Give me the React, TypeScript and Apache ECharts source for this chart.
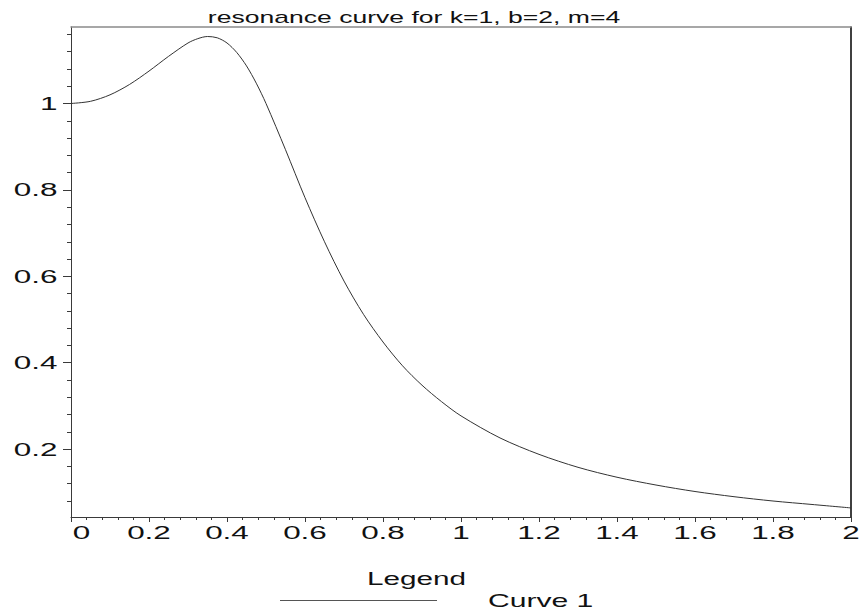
import React, { useEffect, useRef } from "react";
import * as echarts from "echarts";

const xValues = [
  0, 0.05, 0.1, 0.15, 0.2, 0.25, 0.3, 0.325, 0.35, 0.375, 0.4, 0.425, 0.45, 0.475, 0.5,
  0.55, 0.6, 0.65, 0.7, 0.75, 0.8, 0.85, 0.9, 0.95, 1.0,
  1.1, 1.2, 1.3, 1.4, 1.5, 1.6, 1.7, 1.8, 1.9, 2.0,
];
const yValues = [
  1.0, 1.005, 1.02, 1.044, 1.075, 1.109, 1.14, 1.15, 1.155, 1.152, 1.14, 1.118, 1.087, 1.047, 1.0,
  0.893, 0.782, 0.68, 0.589, 0.512, 0.448, 0.393, 0.348, 0.31, 0.277,
  0.226, 0.188, 0.158, 0.135, 0.117, 0.102, 0.09, 0.08, 0.072, 0.064,
];
const xTickValues = [0, 0.2, 0.4, 0.6, 0.8, 1, 1.2, 1.4, 1.6, 1.8, 2];
const xTickLabels = ["0", "0.2", "0.4", "0.6", "0.8", "1", "1.2", "1.4", "1.6", "1.8", "2"];
const yMajorTicks = [0.2, 0.4, 0.6, 0.8, 1];
const yTickLabels = ["0.2", "0.4", "0.6", "0.8", "1"];
const yMinorTicks = [
  0.08, 0.12, 0.16, 0.24, 0.28, 0.32, 0.36, 0.44, 0.48, 0.52, 0.56, 0.64, 0.68,
  0.72, 0.76, 0.84, 0.88, 0.92, 0.96, 1.04, 1.08, 1.12, 1.16,
];
const titleText = "resonance curve for k=1, b=2, m=4";
const legendTitle = "Legend";
const seriesName = "Curve 1";

const FONT = '"Liberation Sans", Arial, sans-serif';
const STRETCH = 1.7;
const TEXT_COLOR = "#111";

export default function App() {
  const ref = useRef<HTMLDivElement>(null);
  useEffect(() => {
    if (!ref.current) return;
    const chart = echarts.init(ref.current, undefined, { renderer: "svg" });
    const data = xValues.map((x, i) => [x, yValues[i]]);
    const yMin = 0.043;
    const yMax = 1.177;
    const axisColor = "#3a3a3a";
    chart.setOption({
      animation: false,
      backgroundColor: "#ffffff",
      grid: { left: 71, right: 10, top: 27, bottom: 95, containLabel: false },
      xAxis: [
        {
          type: "value",
          min: 0,
          max: 2,
          interval: 0.2,
          position: "bottom",
          axisLine: { show: true, onZero: false, lineStyle: { color: axisColor, width: 1 } },
          axisTick: { show: true, length: 5, lineStyle: { color: axisColor } },
          minorTick: { show: true, splitNumber: 5, length: 3, lineStyle: { color: axisColor } },
          splitLine: { show: false },
          minorSplitLine: { show: false },
          axisLabel: { show: false },
        },
        {
          type: "value",
          min: 0,
          max: 2,
          position: "top",
          axisLine: { show: true, onZero: false, lineStyle: { color: "#8a8a8a", width: 1.5 } },
          axisTick: { show: false },
          axisLabel: { show: false },
          splitLine: { show: false },
        },
      ],
      yAxis: [
        {
          type: "value",
          min: yMin,
          max: yMax,
          position: "left",
          axisLine: { show: true, onZero: false, lineStyle: { color: axisColor, width: 1 } },
          axisTick: { show: true, length: 8, customValues: yMajorTicks, lineStyle: { color: axisColor } },
          axisLabel: { show: false },
          splitLine: { show: false },
        },
        {
          type: "value",
          min: yMin,
          max: yMax,
          position: "left",
          axisLine: { show: false },
          axisTick: { show: true, length: 4, customValues: yMinorTicks, lineStyle: { color: axisColor } },
          axisLabel: { show: false },
          splitLine: { show: false },
        },
        {
          type: "value",
          min: yMin,
          max: yMax,
          position: "right",
          axisLine: { show: true, onZero: false, lineStyle: { color: "#000", width: 1.5 } },
          axisTick: { show: false },
          axisLabel: { show: false },
          splitLine: { show: false },
        },
      ],
      series: [
        {
          name: seriesName,
          type: "line",
          xAxisIndex: 0,
          yAxisIndex: 0,
          data,
          symbol: "none",
          showSymbol: false,
          smooth: 0.3,
          lineStyle: { color: "#333", width: 1 },
          itemStyle: { color: "#333" },
        },
      ],
    });

    // Tick labels placed through the library's own axis scales
    const toPx = (x: number, y: number) =>
      chart.convertToPixel({ gridIndex: 0 }, [x, y]) as number[];
    const bottomPx = toPx(0, yMin)[1];
    const leftPx = toPx(0, yMin)[0];
    const textStyle = (size: number, align: string, vAlign: string) => ({
      font: `${size}px ${FONT}`,
      fill: TEXT_COLOR,
      textAlign: align,
      textVerticalAlign: vAlign,
      verticalAlign: vAlign,
    });
    const graphics: any[] = [];
    xTickValues.forEach((v, i) => {
      const px = toPx(v, yMin)[0] + (v === 0 ? 10.5 : 0);
      graphics.push({
        type: "text",
        x: px,
        y: bottomPx + 6,
        scaleX: STRETCH,
        style: { text: xTickLabels[i], ...textStyle(18.5, "center", "top") },
      });
    });
    yMajorTicks.forEach((v, i) => {
      const py = toPx(0, v)[1];
      graphics.push({
        type: "text",
        x: leftPx - 13.5,
        y: py,
        scaleX: STRETCH,
        style: { text: yTickLabels[i], ...textStyle(18.5, "right", "middle") },
      });
    });
    graphics.push(
      {
        type: "text",
        x: 414,
        y: 18,
        scaleX: 1.66,
        style: { text: titleText, ...textStyle(16, "center", "middle") },
      },
      {
        type: "text",
        x: 416.5,
        y: 578.5,
        scaleX: 1.65,
        style: { text: legendTitle, ...textStyle(18, "center", "middle") },
      },
      {
        type: "line",
        shape: { x1: 280, y1: 600.5, x2: 437, y2: 600.5 },
        style: { stroke: "#555", lineWidth: 1 },
      },
      {
        type: "text",
        x: 488,
        y: 601,
        scaleX: 1.72,
        style: { text: seriesName, ...textStyle(17.5, "left", "middle") },
      }
    );
    chart.setOption({ graphic: graphics });
    return () => chart.dispose();
  }, []);
  return (
    <div
      ref={ref}
      style={{ position: "fixed", left: 0, top: 0, width: 861, height: 612, background: "#fff" }}
    />
  );
}
